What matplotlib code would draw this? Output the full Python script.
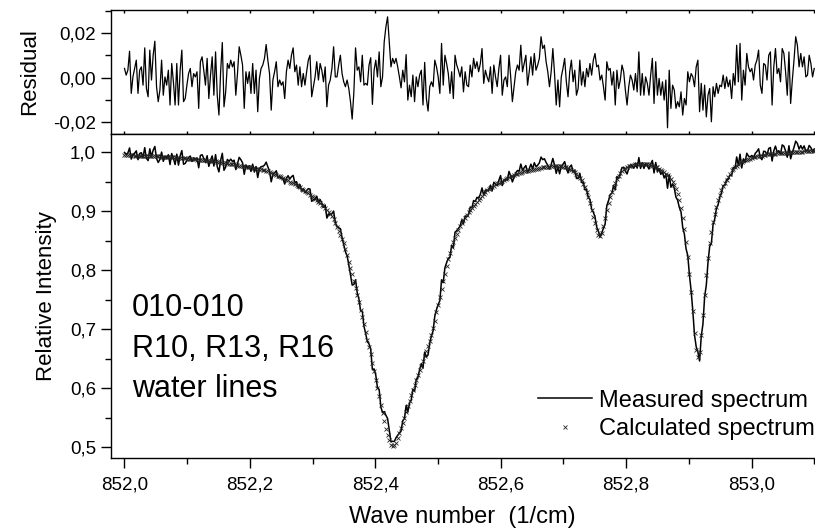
import numpy as np
import matplotlib.pyplot as plt
from matplotlib.ticker import MultipleLocator, FuncFormatter

plt.rcParams['font.family'] = ['Liberation Sans', 'DejaVu Sans']

# wave number range of the scan (1/cm)
wn_start, wn_end = 852.0, 853.1

# calculated spectrum (relative intensity)
calculated = np.array([
    0.995, 0.995, 0.995, 0.995, 0.995, 0.995, 0.994, 0.994, 0.994, 0.994,
    0.994, 0.994, 0.994, 0.994, 0.994, 0.993, 0.993, 0.993, 0.993, 0.993,
    0.993, 0.993, 0.992, 0.992, 0.992, 0.992, 0.992, 0.991, 0.991, 0.991,
    0.991, 0.990, 0.990, 0.990, 0.990, 0.990, 0.990, 0.989, 0.989, 0.989,
    0.988, 0.988, 0.988, 0.987, 0.987, 0.987, 0.986, 0.986, 0.986, 0.985,
    0.985, 0.985, 0.984, 0.984, 0.984, 0.983, 0.983, 0.983, 0.982, 0.982,
    0.981, 0.981, 0.980, 0.980, 0.979, 0.979, 0.978, 0.978, 0.977, 0.977,
    0.976, 0.976, 0.975, 0.975, 0.974, 0.974, 0.973, 0.973, 0.972, 0.972,
    0.972, 0.971, 0.970, 0.969, 0.968, 0.967, 0.966, 0.964, 0.963, 0.962,
    0.961, 0.960, 0.959, 0.958, 0.956, 0.955, 0.953, 0.952, 0.950, 0.948,
    0.947, 0.945, 0.944, 0.942, 0.940, 0.938, 0.936, 0.934, 0.932, 0.930,
    0.927, 0.925, 0.923, 0.920, 0.918, 0.915, 0.913, 0.910, 0.908, 0.905,
    0.901, 0.898, 0.895, 0.891, 0.886, 0.880, 0.873, 0.866, 0.860, 0.853,
    0.845, 0.835, 0.825, 0.814, 0.803, 0.793, 0.782, 0.770, 0.758, 0.746,
    0.733, 0.720, 0.708, 0.695, 0.682, 0.669, 0.657, 0.643, 0.629, 0.614,
    0.600, 0.586, 0.572, 0.558, 0.544, 0.531, 0.521, 0.512, 0.504, 0.501,
    0.503, 0.507, 0.515, 0.523, 0.532, 0.541, 0.550, 0.560, 0.569, 0.578,
    0.588, 0.597, 0.605, 0.614, 0.622, 0.630, 0.638, 0.646, 0.654, 0.662,
    0.671, 0.680, 0.690, 0.701, 0.714, 0.728, 0.741, 0.755, 0.768, 0.782,
    0.794, 0.806, 0.818, 0.829, 0.839, 0.847, 0.854, 0.861, 0.867, 0.874,
    0.880, 0.885, 0.889, 0.894, 0.898, 0.901, 0.905, 0.909, 0.912, 0.916,
    0.919, 0.922, 0.926, 0.929, 0.932, 0.935, 0.937, 0.939, 0.941, 0.943,
    0.945, 0.947, 0.948, 0.950, 0.951, 0.953, 0.954, 0.956, 0.957, 0.959,
    0.960, 0.961, 0.962, 0.963, 0.964, 0.965, 0.966, 0.967, 0.967, 0.968,
    0.969, 0.970, 0.970, 0.971, 0.972, 0.972, 0.973, 0.973, 0.974, 0.974,
    0.975, 0.975, 0.975, 0.976, 0.976, 0.976, 0.976, 0.976, 0.976, 0.976,
    0.975, 0.975, 0.974, 0.973, 0.972, 0.970, 0.968, 0.966, 0.963, 0.960,
    0.956, 0.952, 0.946, 0.940, 0.932, 0.923, 0.913, 0.902, 0.890, 0.879,
    0.868, 0.860, 0.857, 0.862, 0.874, 0.888, 0.902, 0.914, 0.924, 0.933,
    0.941, 0.948, 0.955, 0.960, 0.964, 0.968, 0.971, 0.973, 0.975, 0.976,
    0.977, 0.978, 0.978, 0.979, 0.979, 0.979, 0.980, 0.980, 0.980, 0.980,
    0.979, 0.979, 0.978, 0.977, 0.976, 0.975, 0.974, 0.972, 0.970, 0.968,
    0.966, 0.963, 0.961, 0.958, 0.954, 0.949, 0.944, 0.937, 0.929, 0.919,
    0.905, 0.889, 0.870, 0.848, 0.822, 0.793, 0.763, 0.730, 0.694, 0.665,
    0.653, 0.661, 0.690, 0.723, 0.758, 0.792, 0.821, 0.845, 0.865, 0.881,
    0.895, 0.907, 0.918, 0.927, 0.935, 0.942, 0.948, 0.953, 0.958, 0.962,
    0.969, 0.972, 0.975, 0.977, 0.979, 0.981, 0.983, 0.985, 0.986, 0.987,
    0.988, 0.989, 0.990, 0.991, 0.992, 0.993, 0.993, 0.994, 0.994, 0.995,
    0.995, 0.996, 0.996, 0.996, 0.997, 0.997, 0.997, 0.998, 0.998, 0.998,
    0.999, 0.999, 0.999, 0.999, 0.999, 1.000, 1.000, 1.000, 1.000, 1.000,
    1.000, 1.000, 1.000, 1.001, 1.001, 1.001, 1.001, 1.001, 1.001, 1.001,
])

# residual (measured - calculated), in units of 1e-3
residual = np.array([
    4.2, 1.2, 3.4, 11.9, -7.0, 0.4, 4.2, 7.9, -7.0, 3.4,
    4.9, -3.3, 13.4, -4.8, -8.5, 12.4, -1.0, 10.1, 16.4, -4.0,
    -10.7, -5.5, 7.9, -7.8, 0.4, -3.3, 3.4, -12.2, 6.4, -1.8,
    -12.2, 6.4, -12.2, 3.4, 12.4, -10.7, -9.3, -3.3, 1.9, 4.2,
    -4.0, 1.9, 0.4, 2.7, -13.7, 7.2, 9.4, 3.4, -3.3, 8.7,
    -9.3, 1.2, 9.4, -7.8, 11.6, -7.8, -16.7, 2.7, 15.8, -13.0,
    -6.3, 6.4, 4.2, 7.9, 4.9, 7.2, -7.8, 1.9, 13.9, 10.1,
    5.7, -13.7, 2.7, -2.5, 2.7, -7.0, 6.4, -7.0, 3.4, -15.2,
    -0.3, 4.2, 5.7, 8.7, 14.9, 7.9, 1.9, -14.5, -1.0, 2.7,
    7.2, -4.0, -1.0, -3.3, -1.8, -9.3, 2.7, 7.9, 4.2, 10.1,
    13.4, 2.7, 5.7, -3.3, 4.9, -4.0, 1.9, -3.3, 2.7, 7.9,
    10.1, -8.5, -4.0, 0.4, 7.2, -1.0, 6.4, 3.4, -1.8, 4.9,
    -13.0, -3.3, -1.0, 4.2, 13.9, 0.4, 0.4, 5.7, 10.1, 1.9,
    -1.8, -4.0, -1.0, -4.8, -10.7, -18.5, -6.6, 13.4, 3.4, 4.9,
    -1.8, 10.1, -3.3, -2.5, -3.3, 5.7, 9.0, -11.9, 3.4, 7.9,
    0.4, 11.6, -4.0, 0.4, 16.1, 22.8, 27.3, 16.1, 4.9, 8.7,
    6.4, 8.7, 4.9, 0.4, -4.5, 3.4, -1.8, 10.4, -10.0, -3.3,
    -8.5, 1.2, -10.7, 0.4, -4.0, 1.2, 3.4, -12.2, 6.9, -9.3,
    -14.9, -4.0, -1.8, -4.0, 7.9, 4.9, 0.4, -7.0, 15.4, -3.3,
    10.1, 6.4, 1.9, -7.0, 2.7, -9.3, 10.1, 5.7, 3.4, 0.4,
    4.9, -6.3, 2.7, -3.3, -4.0, 5.7, 0.4, 8.7, 4.2, 7.2,
    2.7, 6.4, 13.1, -2.5, 3.4, 0.4, -1.8, 4.9, -7.0, 5.7,
    0.4, -4.0, 4.2, 10.1, -7.8, -1.0, 0.4, -4.0, 10.1, 0.4,
    -10.7, -4.0, 2.7, 5.7, 3.4, 14.6, 2.7, 6.4, 10.1, -3.3,
    2.7, 9.4, 1.2, 10.9, 3.4, 5.7, 8.7, 18.4, 13.1, 14.6,
    7.2, 2.7, -4.0, 2.7, 13.1, 1.9, -12.2, -1.0, -13.0, 0.4,
    4.2, 8.7, -1.8, -8.5, 2.7, 7.9, -1.8, 3.4, -7.8, -4.8,
    7.9, -3.3, 2.7, -4.0, 4.2, 0.4, 6.4, 1.2, 7.9, 10.9,
    4.9, 5.7, -1.0, 1.2, -4.0, -10.0, 7.2, 3.4, 4.2, -3.3,
    2.7, -12.2, 3.4, -4.8, -1.0, 5.7, 2.7, -5.5, -12.2, -4.0,
    1.2, -1.0, -5.5, 1.9, -6.3, 11.6, -7.8, 1.9, -7.8, 0.4,
    -2.5, -7.8, 1.2, 8.7, -11.5, 7.2, -7.8, -0.3, -7.8, -1.8,
    -10.0, -1.0, -22.4, 3.4, -13.7, -3.3, -5.5, -13.7, -10.7, -13.0,
    -6.3, -16.7, -9.3, -12.2, 2.7, -1.8, 1.9, 0.4, -4.0, 4.9,
    7.9, -15.2, -2.5, -14.5, -3.3, -17.5, -7.8, -4.8, -19.7, -4.0,
    -8.5, -2.5, -7.0, -3.3, -4.0, 1.2, -4.8, 0.4, -4.0, -1.0,
    -9.3, 1.9, -3.3, 14.6, -1.8, 15.4, -10.0, 3.4, -3.3, 10.9,
    4.9, 2.7, 4.2, -1.0, 5.7, 7.9, 12.4, -3.3, -7.0, 6.4,
    5.7, -1.0, 10.1, 11.6, -12.2, 4.9, 13.1, 1.9, 4.2, -1.8,
    13.1, 10.9, 2.7, -7.8, 11.6, -11.5, -1.0, 7.9, 18.4, 14.6,
    4.9, 10.9, 4.9, 9.4, 0.4, 1.2, 10.1, 6.4, 0.4, 4.2,
]) / 1000

wave = np.linspace(wn_start, wn_end, len(calculated))
measured = calculated + residual


def comma(fmt):
    def f(v, pos):
        if abs(v) < 1e-9:
            v = 0.0
        return fmt.format(v).replace('.', ',')
    return FuncFormatter(f)


fig = plt.figure(figsize=(8.15, 5.31), dpi=100)
ax_res = fig.add_axes([0.1356, 0.7476, 0.8644, 0.2341])
ax = fig.add_axes([0.1356, 0.1375, 0.8644, 0.6101])

xlim = (851.9777, 853.1012)

# residual panel
ax_res.plot(wave, residual, color='black', lw=0.9)
ax_res.set_xlim(xlim)
ax_res.set_ylim(-0.0252, 0.0305)
ax_res.set_ylabel('Residual', fontsize=16, labelpad=9)
ax_res.yaxis.set_major_locator(MultipleLocator(0.02))
ax_res.yaxis.set_minor_locator(MultipleLocator(0.01))
ax_res.yaxis.set_major_formatter(comma('{:.2f}'))
ax_res.xaxis.set_major_locator(MultipleLocator(0.1))
ax_res.tick_params(axis='x', which='major', direction='in', length=2.5, width=1,
                   top=True, bottom=True, labelbottom=False)
ax_res.tick_params(axis='y', which='major', direction='out', length=7, width=1, labelsize=13.5)
ax_res.tick_params(axis='y', which='minor', direction='out', length=4, width=1)

# spectrum panel
ax.plot(wave, measured, color='black', lw=1.1, label='Measured spectrum')
ax.plot(wave, calculated, ls='none', marker='x', ms=3, mew=0.6, color='#222222',
        label='Calculated spectrum')
ax.set_xlim(xlim)
ax.set_ylim(0.4814, 1.0305)
ax.set_ylabel('Relative Intensity', fontsize=16, labelpad=9)
ax.set_xlabel('Wave number  (1/cm)', fontsize=17, labelpad=9)
ax.xaxis.set_major_locator(MultipleLocator(0.2))
ax.xaxis.set_minor_locator(MultipleLocator(0.1))
ax.yaxis.set_major_locator(MultipleLocator(0.1))
ax.yaxis.set_minor_locator(MultipleLocator(0.05))
ax.xaxis.set_major_formatter(comma('{:.1f}'))
ax.yaxis.set_major_formatter(comma('{:.1f}'))
ax.tick_params(which='major', direction='out', length=7, width=1, labelsize=13.5)
ax.tick_params(which='minor', direction='out', length=4, width=1)
ax.tick_params(axis='x', which='major', pad=6)

for a in (ax, ax_res):
    a.spines['right'].set_visible(False)
    for s in ('left', 'top', 'bottom'):
        a.spines[s].set_linewidth(1.0)

ax.text(0.030, 0.188, '010-010\nR10, R13, R16\nwater lines', transform=ax.transAxes,
        fontsize=22, va='baseline', ha='left', linespacing=1.45)

ax.legend(loc='lower right', bbox_to_anchor=(1.0, 0.055), frameon=False, fontsize=17,
          handlelength=2.3, handletextpad=0.3, labelspacing=0.28, borderpad=0,
          borderaxespad=0)

fig.savefig('out.png', dpi=100)
